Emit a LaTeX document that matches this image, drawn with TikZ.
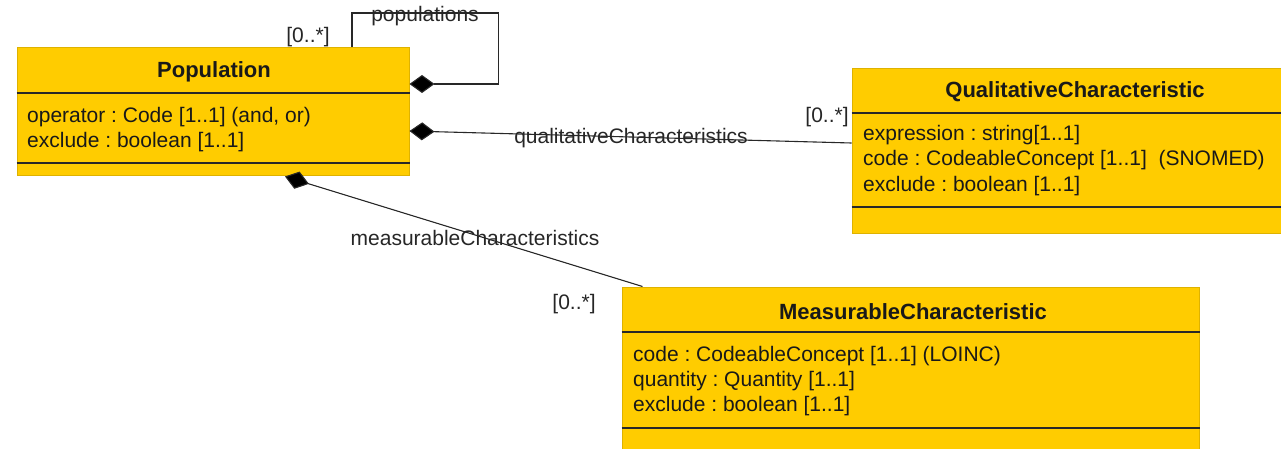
\documentclass[tikz,border=0pt]{standalone}
\usepackage{fontspec}
\setmainfont{Liberation Sans}
\usetikzlibrary{arrows.meta}
\frenchspacing

\definecolor{umlyellow}{RGB}{255,204,0}
\definecolor{umledge}{RGB}{222,178,0}
\definecolor{umlline}{RGB}{40,40,40}

\tikzset{
  umlbox/.style={draw=umledge, fill=umlyellow, line width=1pt, rectangle, inner sep=0pt},
  divider/.style={draw=umlline, line width=1.6pt},
  title/.style={anchor=base, inner sep=0pt, font=\fontsize{22}{26}\selectfont\bfseries, text=black!90},
  attr/.style={anchor=base west, inner sep=0pt, font=\fontsize{21}{25}\selectfont, text=black!90},
  lbl/.style={inner sep=0pt, font=\fontsize{21}{25}\selectfont, text=black!85},
  comp/.style={draw=umlline, line width=1.1pt, {Diamond[length=25pt,width=18pt,fill=black]}-}
}

\begin{document}
\begin{tikzpicture}[x=1pt, y=-1pt]
  \useasboundingbox (0,0) rectangle (1281,449);

  % boxes
  \node[umlbox, minimum width=392pt, minimum height=128pt] (pop) at (213,112) {};
  \node[umlbox, minimum width=429pt, minimum height=164pt] (qual) at (1066.5,151) {};
  \node[umlbox, minimum width=577pt, minimum height=165pt] (meas) at (910.5,369.5) {};

  % Population
  \draw[divider] (pop.west |- 0,93) -- (pop.east |- 0,93);
  \draw[divider] (pop.west |- 0,163) -- (pop.east |- 0,163);
  \node[title] (popT) at (214,78) {Population};
  \node[attr] (popA) at (27,123) {operator : Code [1..1] (and, or)};
  \node[attr] (popB) at (27,148) {exclude : boolean [1..1]};

  % QualitativeCharacteristic
  \draw[divider] (qual.west |- 0,113) -- (qual.east |- 0,113);
  \draw[divider] (qual.west |- 0,207) -- (qual.east |- 0,207);
  \node[title] (qualT) at (1075,98) {QualitativeCharacteristic};
  \node[attr] (qualA) at (863,141) {expression : string[1..1]};
  \node[attr] (qualB) at (863,166) {code : CodeableConcept [1..1]\ \ (SNOMED)};
  \node[attr] (qualC) at (863,191) {exclude : boolean [1..1]};

  % MeasurableCharacteristic
  \draw[divider] (meas.west |- 0,332) -- (meas.east |- 0,332);
  \draw[divider] (meas.west |- 0,428) -- (meas.east |- 0,428);
  \node[title] (measT) at (913,319) {MeasurableCharacteristic};
  \node[attr] (measA) at (633,361) {code : CodeableConcept [1..1] (LOINC)};
  \node[attr] (measB) at (633,386) {quantity : Quantity [1..1]};
  \node[attr] (measC) at (633,411) {exclude : boolean [1..1]};

  % associations
  \draw[comp] ([yshift=28pt]pop.east) -| ++(89,-71) -| ([xshift=139pt]pop.north);
  \draw[comp] ([yshift=-19pt]pop.east) -- ([yshift=8pt]qual.west);
  \draw[comp] ([xshift=72pt]pop.south) -- ([xshift=-268pt]meas.north);

  % labels
  \node[lbl] (popsL) at (425,16) {populations};
  \node[lbl] (popsM) at (308,37) {[0..*]};
  \node[lbl] (qualL) at (631,138) {qualitativeCharacteristics};
  \node[lbl] (qualM) at (827,117) {[0..*]};
  \node[lbl] (measL) at (475,238) {measurableCharacteristics};
  \node[lbl] (measM) at (574,304) {[0..*]};
\end{tikzpicture}
\end{document}
